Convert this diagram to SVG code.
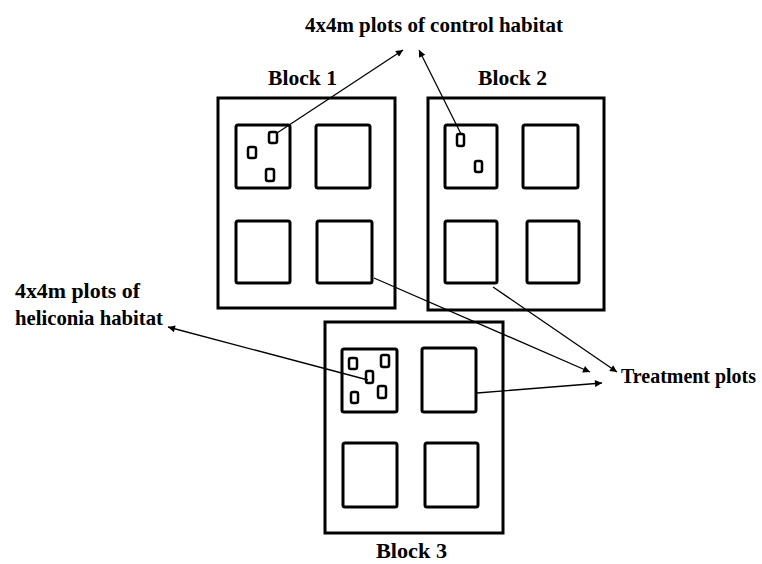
<svg xmlns="http://www.w3.org/2000/svg" width="762" height="564" viewBox="0 0 762 564">
<style>
.outer{fill:#fff;stroke:#000;stroke-width:3}
.inner{fill:#fff;stroke:#000;stroke-width:3}
.small{fill:#fff;stroke:#000;stroke-width:2.5}
.lbl{font-family:"Liberation Serif",serif;font-weight:bold;font-size:21px;fill:#000}
.conn{stroke:#000;stroke-width:1.3;fill:none;marker-end:url(#ah)}
</style>
<defs>
<marker id="ah" viewBox="0 0 10 10" refX="10" refY="5" markerWidth="11" markerHeight="7" markerUnits="userSpaceOnUse" orient="auto">
<path d="M0,0 L10,5 L0,10 Z" fill="#000"/>
</marker>
</defs>
<rect width="762" height="564" fill="#fff"/>
<g id="block1">
<rect class="outer" x="218" y="98" width="177" height="210"/>
<rect class="inner" x="236" y="125" width="54" height="63" rx="2"/>
<rect class="inner" x="316" y="125" width="54" height="63" rx="2"/>
<rect class="inner" x="236" y="221" width="54" height="62" rx="2"/>
<rect class="inner" x="317" y="221" width="55" height="62" rx="2"/>
<rect class="small" x="269" y="132" width="8" height="11" rx="2"/>
<rect class="small" x="248" y="147" width="8" height="11" rx="2"/>
<rect class="small" x="266" y="169" width="8" height="12" rx="2"/>
<text class="lbl" x="268" y="85" textLength="69" lengthAdjust="spacingAndGlyphs">Block 1</text>
</g>
<g id="block2">
<rect class="outer" x="428" y="98" width="176" height="212"/>
<rect class="inner" x="445" y="125" width="52" height="63" rx="2"/>
<rect class="inner" x="523" y="125" width="55" height="63" rx="2"/>
<rect class="inner" x="445" y="221" width="52" height="62" rx="2"/>
<rect class="inner" x="527" y="221" width="52" height="62" rx="2"/>
<rect class="small" x="457" y="134" width="7" height="12" rx="2"/>
<rect class="small" x="475" y="161" width="7" height="11" rx="2"/>
<text class="lbl" x="478" y="85" textLength="69" lengthAdjust="spacingAndGlyphs">Block 2</text>
</g>
<g id="block3">
<rect class="outer" x="325" y="322" width="178" height="211"/>
<rect class="inner" x="342" y="349" width="55" height="63" rx="2"/>
<rect class="inner" x="422" y="348" width="54" height="64" rx="2"/>
<rect class="inner" x="343" y="443" width="54" height="64" rx="2"/>
<rect class="inner" x="425" y="443" width="53" height="64" rx="2"/>
<rect class="small" x="349" y="358" width="8" height="11" rx="2"/>
<rect class="small" x="381" y="355" width="8" height="12" rx="2"/>
<rect class="small" x="366" y="371" width="7" height="12" rx="2"/>
<rect class="small" x="351" y="392" width="7" height="11" rx="2"/>
<rect class="small" x="378" y="386" width="8" height="12" rx="2"/>
<text class="lbl" x="376" y="558" textLength="71" lengthAdjust="spacingAndGlyphs">Block 3</text>
</g>
<g id="label-control">
<text class="lbl" x="305" y="32" textLength="258" lengthAdjust="spacingAndGlyphs">4x4m plots of control habitat</text>
</g>
<g id="label-heliconia">
<text class="lbl" x="15" y="298" textLength="125" lengthAdjust="spacingAndGlyphs">4x4m plots of</text>
<text class="lbl" x="15" y="325" textLength="148" lengthAdjust="spacingAndGlyphs">heliconia habitat</text>
</g>
<g id="label-treatment">
<text class="lbl" x="621" y="383" textLength="135" lengthAdjust="spacingAndGlyphs">Treatment plots</text>
</g>
<g id="connectors">
<line class="conn" x1="277" y1="133" x2="403" y2="50"/>
<line class="conn" x1="461" y1="134" x2="419" y2="50"/>
<line class="conn" x1="368" y1="380" x2="168" y2="327"/>
<line class="conn" x1="374" y1="278" x2="590" y2="372"/>
<line class="conn" x1="493" y1="287" x2="617" y2="372"/>
<line class="conn" x1="477" y1="393" x2="602" y2="383"/>
</g>
</svg>
